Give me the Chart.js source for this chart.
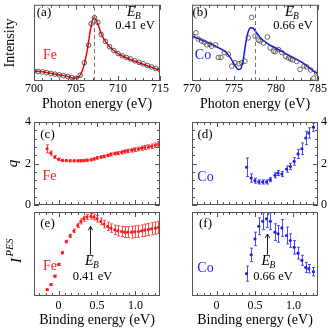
<!DOCTYPE html>
<html>
<head>
<meta charset="utf-8">
<script src="https://cdn.jsdelivr.net/npm/chart.js@4.4.1/dist/chart.umd.min.js"></script>
<style>
  html, body { margin: 0; padding: 0; background: #fff; }
  #wrap { position: relative; width: 332px; height: 334px; }
  #wrap canvas { position: absolute; left: 0; top: 0; }
</style>
</head>
<body>
<div id="wrap">
  <canvas id="chartA" width="332" height="334"></canvas>
  <canvas id="chartB" width="332" height="334"></canvas>
  <canvas id="chartC" width="332" height="334"></canvas>
  <canvas id="chartD" width="332" height="334"></canvas>
  <canvas id="chartE" width="332" height="334"></canvas>
  <canvas id="chartF" width="332" height="334"></canvas>
</div>
<script>
// (a) Fe absorption, measured points and fit
const feEnergy = [700, 700.5, 701, 701.5, 702, 702.5, 703, 703.5, 704, 704.5, 705, 705.5, 706, 706.5, 706.8, 707.2, 707.6, 708, 708.5, 709, 709.5, 710, 710.5, 711, 711.5, 712, 712.5, 713, 713.5, 714, 714.5, 715];
const feIntensity = [0.13, 0.125, 0.12, 0.11, 0.10, 0.09, 0.08, 0.07, 0.06, 0.045, 0.035, 0.075, 0.24, 0.47, 0.75, 0.83, 0.77, 0.61, 0.52, 0.45, 0.40, 0.36, 0.33, 0.31, 0.29, 0.265, 0.245, 0.225, 0.205, 0.185, 0.165, 0.145];
const feFitEnergy = [700, 701, 702, 703, 704, 704.8, 705.3, 705.8, 706.3, 706.8, 707.1, 707.5, 708, 708.5, 709, 710, 711, 712, 713, 714, 715];
const feFitIntensity = [0.13, 0.12, 0.10, 0.08, 0.06, 0.035, 0.05, 0.15, 0.38, 0.72, 0.83, 0.78, 0.62, 0.52, 0.45, 0.36, 0.305, 0.26, 0.22, 0.18, 0.14];

// (b) Co absorption, measured points and fit
const coEnergy = [770.04, 770.48, 770.75, 771.15, 771.47, 771.75, 772.14, 772.34, 772.8, 773.13, 773.45, 773.85, 774.33, 774.72, 775.12, 775.6, 775.9, 776.3, 776.7, 777.1, 777.5, 777.9, 778.1, 778.5, 778.97, 779.3, 779.7, 779.9, 780.3, 780.7, 781.15, 781.47, 781.75, 781.98, 782.46, 782.86, 783.33, 783.65, 784.13, 784.49, 784.84];
const coIntensity = [0.587, 0.632, 0.55, 0.525, 0.508, 0.475, 0.483, 0.455, 0.475, 0.31, 0.31, 0.372, 0.351, 0.194, 0.24, 0.227, 0.24, 0.26, 0.566, 0.835, 0.59, 0.537, 0.525, 0.496, 0.578, 0.434, 0.393, 0.384, 0.413, 0.372, 0.322, 0.302, 0.289, 0.277, 0.256, 0.153, 0.198, 0.186, 0.145, 0.037, 0.103];
const coFitEnergy = [770, 771, 772, 773, 774, 774.6, 775.1, 775.5, 775.8, 776.1, 776.4, 776.7, 777.0, 777.3, 777.7, 778.2, 779, 780, 781, 782, 783, 784, 785];
const coFitIntensity = [0.59, 0.545, 0.5, 0.445, 0.38, 0.30, 0.21, 0.15, 0.16, 0.28, 0.5, 0.65, 0.70, 0.69, 0.63, 0.56, 0.49, 0.43, 0.37, 0.31, 0.25, 0.17, 0.09];

// (c),(e) Fe vs binding energy
const feBinding = [-0.15, -0.10, -0.05, 0.00, 0.05, 0.10, 0.15, 0.20, 0.25, 0.29, 0.33, 0.37, 0.42, 0.46, 0.50, 0.55, 0.59, 0.64, 0.68, 0.73, 0.77, 0.82, 0.86, 0.90, 0.95, 0.99, 1.04, 1.08, 1.12, 1.17, 1.21, 1.26, 1.30];
const feQ = [2.71, 2.50, 2.31, 2.20, 2.15, 2.14, 2.13, 2.13, 2.13, 2.13, 2.14, 2.16, 2.18, 2.22, 2.27, 2.31, 2.34, 2.39, 2.44, 2.48, 2.50, 2.54, 2.58, 2.61, 2.64, 2.67, 2.70, 2.74, 2.77, 2.80, 2.83, 2.88, 2.93];
const feQErr = [0.19, 0.10, 0.07, 0.06, 0.05, 0.05, 0.05, 0.05, 0.05, 0.05, 0.05, 0.05, 0.05, 0.05, 0.06, 0.06, 0.06, 0.06, 0.07, 0.07, 0.07, 0.08, 0.08, 0.08, 0.09, 0.09, 0.09, 0.10, 0.10, 0.10, 0.11, 0.11, 0.12];
const feIpes = [0.076, 0.136, 0.236, 0.376, 0.516, 0.648, 0.716, 0.776, 0.84, 0.888, 0.92, 0.94, 0.948, 0.94, 0.92, 0.888, 0.856, 0.828, 0.808, 0.788, 0.776, 0.768, 0.76, 0.76, 0.76, 0.764, 0.768, 0.776, 0.784, 0.792, 0.80, 0.808, 0.816];
const feIpesErr = [0.01, 0.01, 0.012, 0.012, 0.015, 0.015, 0.02, 0.02, 0.025, 0.03, 0.03, 0.03, 0.032, 0.035, 0.04, 0.04, 0.045, 0.05, 0.05, 0.055, 0.06, 0.06, 0.065, 0.065, 0.07, 0.07, 0.07, 0.07, 0.072, 0.072, 0.072, 0.072, 0.072];

// (d),(f) Co vs binding energy
const coBinding = [0.39, 0.45, 0.50, 0.55, 0.60, 0.65, 0.70, 0.76, 0.80, 0.85, 0.91, 0.96, 1.01, 1.06, 1.11, 1.16, 1.20, 1.26];
const coQ = [1.82, 1.30, 1.17, 1.11, 1.11, 1.11, 1.22, 1.43, 1.54, 1.49, 1.73, 1.86, 2.10, 2.46, 2.71, 3.23, 3.47, 3.75];
const coQErr = [0.45, 0.2, 0.12, 0.1, 0.1, 0.1, 0.1, 0.12, 0.12, 0.12, 0.15, 0.15, 0.18, 0.22, 0.28, 0.32, 0.25, 0.2];
const coIpes = [0.266, 0.49, 0.68, 0.83, 0.89, 0.917, 0.89, 0.76, 0.74, 0.81, 0.72, 0.66, 0.58, 0.51, 0.425, 0.34, 0.325, 0.29];
const coIpesErr = [0.09, 0.08, 0.08, 0.1, 0.1, 0.1, 0.1, 0.1, 0.1, 0.1, 0.1, 0.08, 0.08, 0.07, 0.06, 0.06, 0.05, 0.05];

// tick labels
const feTicks = [700, 705, 710, 715];
const coTicks = [770, 775, 780, 785];
const bindingTicks = [0, 0.5, 1];
const qTicks = [0, 2, 4];

const SERIF = '"Liberation Serif", "Times New Roman", serif';
const RED = '#ff1a1a';
const BLUE = '#2020f0';
Chart.defaults.font.family = SERIF;
Chart.defaults.color = '#000';

function pts(xs, ys) {
    return xs.map((x, i) => ({ x: x, y: ys[i] }));
}

function txt(ctx, s, x, y, size, color, style, align) {
    ctx.font = (style || '') + ' ' + size + 'px ' + SERIF;
    ctx.fillStyle = color || '#000';
    ctx.textAlign = align || 'center';
    ctx.textBaseline = 'middle';
    ctx.fillText(s, x, y);
}

// E with subscript B
function drawEB(ctx, x0, y) {
    txt(ctx, 'E', x0, y, 14, '#000', 'italic', 'left');
    const w = ctx.measureText('E').width;
    txt(ctx, 'B', x0 + w - 0.5, y + 3.5, 9.5, '#000', 'italic', 'left');
}

function drawArrow(ctx, x, y1, y2) {
    ctx.save();
    ctx.strokeStyle = '#000';
    ctx.lineWidth = 0.9;
    ctx.beginPath();
    ctx.moveTo(x, y1); ctx.lineTo(x, y2);
    ctx.moveTo(x - 2.2, y2 + 4); ctx.lineTo(x, y2); ctx.lineTo(x + 2.2, y2 + 4);
    ctx.stroke();
    ctx.restore();
}

function tickValues(majors, perMajor, min, max) {
    const step = (majors[1] - majors[0]) / perMajor;
    const out = [];
    let v = majors[0];
    while (v - step >= min - 1e-9) v -= step;
    for (; v <= max + 1e-9; v += step) {
        out.push({ v: v, major: majors.some(m => Math.abs(m - v) < step / 10) });
    }
    return out;
}

function panelPlugin(cfg) {
    return {
        id: 'panel',
        beforeDatasetsDraw(chart) {
            if (!cfg.errors) return;
            const ctx = chart.ctx, a = chart.chartArea;
            const sx = chart.scales.x, sy = chart.scales.y;
            const e = cfg.errors;
            ctx.save();
            ctx.beginPath();
            ctx.rect(a.left, a.top, a.right - a.left, a.bottom - a.top);
            ctx.clip();
            ctx.strokeStyle = e.color;
            ctx.lineWidth = 1;
            ctx.beginPath();
            e.x.forEach((x, i) => {
                const px = Math.round(sx.getPixelForValue(x)) + 0.5;
                const y1 = sy.getPixelForValue(e.y[i] - e.err[i]);
                const y2 = sy.getPixelForValue(e.y[i] + e.err[i]);
                ctx.moveTo(px, y1); ctx.lineTo(px, y2);
                ctx.moveTo(px - 1.5, y1); ctx.lineTo(px + 1.5, y1);
                ctx.moveTo(px - 1.5, y2); ctx.lineTo(px + 1.5, y2);
            });
            ctx.stroke();
            ctx.restore();
        },
        afterDraw(chart) {
            const ctx = chart.ctx, a = chart.chartArea;
            const sx = chart.scales.x, sy = chart.scales.y;
            ctx.save();
            // dashed marker line
            if (cfg.dashed !== undefined) {
                const px = Math.round(sx.getPixelForValue(cfg.dashed)) + 0.5;
                ctx.strokeStyle = '#777';
                ctx.lineWidth = 1;
                ctx.setLineDash([4, 3]);
                ctx.beginPath();
                ctx.moveTo(px, a.bottom); ctx.lineTo(px, a.top);
                ctx.stroke();
                ctx.setLineDash([]);
            }
            // frame
            ctx.strokeStyle = '#555';
            ctx.lineWidth = 1;
            ctx.strokeRect(a.left + 0.5, a.top + 0.5, a.right - a.left - 1, a.bottom - a.top - 1);
            // inward ticks
            ctx.beginPath();
            if (cfg.xTicks) {
                tickValues(cfg.xTicks[0], cfg.xTicks[1], sx.min, sx.max).forEach(t => {
                    const px = Math.round(sx.getPixelForValue(t.v)) + 0.5;
                    const len = t.major ? 5 : 3;
                    ctx.moveTo(px, a.bottom); ctx.lineTo(px, a.bottom - len);
                    ctx.moveTo(px, a.top); ctx.lineTo(px, a.top + len);
                });
            }
            if (cfg.yTicks) {
                tickValues(cfg.yTicks[0], cfg.yTicks[1], sy.min, sy.max).forEach(t => {
                    const py = Math.round(sy.getPixelForValue(t.v)) + 0.5;
                    const len = t.major ? 5 : 3;
                    ctx.moveTo(a.left, py); ctx.lineTo(a.left + len, py);
                    ctx.moveTo(a.right, py); ctx.lineTo(a.right - len, py);
                });
            }
            ctx.stroke();
            ctx.restore();
            if (cfg.extra) cfg.extra(ctx);
        }
    };
}

function baseOptions(pad, xScale, yScale) {
    return {
        responsive: false,
        animation: false,
        devicePixelRatio: 1,
        events: [],
        layout: { padding: pad },
        plugins: { legend: { display: false }, tooltip: { enabled: false } },
        scales: { x: xScale, y: yScale }
    };
}

function fixedTicks(values) {
    return function (scale) { scale.ticks = values.map(v => ({ value: v })); };
}

const noGrid = { display: false, drawTicks: false };

// ---- (a) Fe ----
new Chart(document.getElementById('chartA'), {
    type: 'line',
    data: {
        datasets: [
            { data: pts(feEnergy, feIntensity), showLine: false, pointRadius: 2.3, pointBorderWidth: 0.8,
              pointBorderColor: '#333', pointBackgroundColor: 'rgba(0,0,0,0)', order: 0 },
            { data: pts(feFitEnergy, feFitIntensity), borderColor: '#ff0000', borderWidth: 1.5, pointRadius: 0,
              cubicInterpolationMode: 'monotone', order: 1 }
        ]
    },
    options: baseOptions({ left: 0, top: 1, right: 172, bottom: 218 },
        { type: 'linear', min: 700, max: 715, grid: noGrid, border: { display: false },
          afterBuildTicks: fixedTicks(feTicks), afterFit(s) { s.height = 35; },
          ticks: { padding: 1, maxRotation: 0, font: { size: 12 } },
          title: { display: true, text: 'Photon energy (eV)', font: { size: 14 }, padding: { top: 0, bottom: 3 } } },
        { type: 'linear', min: 0, max: 1, grid: noGrid, border: { display: false },
          ticks: { display: false }, afterFit(s) { s.width = 34; },
          title: { display: true, text: 'Intensity', font: { size: 14 }, padding: { top: 2, bottom: 0 } } }),
    plugins: [panelPlugin({
        xTicks: [feTicks, 5], dashed: 707.2,
        extra(ctx) {
            txt(ctx, '(a)', 44, 13, 13);
            drawEB(ctx, 127, 12.5);
            txt(ctx, '0.41 eV', 135, 25.5, 12.5);
            txt(ctx, 'Fe', 50, 55, 14, RED);
        }
    })]
});

// ---- (b) Co ----
new Chart(document.getElementById('chartB'), {
    type: 'line',
    data: {
        datasets: [
            { data: pts(coEnergy, coIntensity), showLine: false, pointRadius: 2.3, pointBorderWidth: 0.8,
              pointBorderColor: '#444', pointBackgroundColor: 'rgba(0,0,0,0)', order: 0 },
            { data: pts(coFitEnergy, coFitIntensity), borderColor: '#1010ff', borderWidth: 1.5, pointRadius: 0,
              cubicInterpolationMode: 'monotone', order: 1 }
        ]
    },
    options: baseOptions({ left: 192, top: 1, right: 14, bottom: 218 },
        { type: 'linear', min: 770, max: 785, grid: noGrid, border: { display: false },
          afterBuildTicks: fixedTicks(coTicks), afterFit(s) { s.height = 35; },
          ticks: { padding: 1, maxRotation: 0, font: { size: 12 } },
          title: { display: true, text: 'Photon energy (eV)', font: { size: 14 }, padding: { top: 0, bottom: 3 } } },
        { type: 'linear', min: 0, max: 1, display: false }),
    plugins: [panelPlugin({
        xTicks: [coTicks, 5], dashed: 777.5,
        extra(ctx) {
            txt(ctx, '(b)', 200, 13, 13);
            drawEB(ctx, 285, 12.5);
            txt(ctx, '0.66 eV', 293, 25.5, 12.5);
            txt(ctx, 'Co', 203, 55, 14, BLUE);
        }
    })]
});

// ---- (c) Fe q ----
new Chart(document.getElementById('chartC'), {
    type: 'line',
    data: { datasets: [{ data: pts(feBinding, feQ), showLine: false, pointRadius: 1.6, pointBorderWidth: 0,
                         pointBackgroundColor: RED }] },
    options: baseOptions({ left: 0, top: 122, right: 172, bottom: 129 },
        { type: 'linear', min: -0.32, max: 1.32, display: false },
        { type: 'linear', min: 0, max: 4, grid: noGrid, border: { display: false },
          afterBuildTicks: fixedTicks(qTicks), afterFit(s) { s.width = 34; },
          ticks: { padding: 3, font: { size: 12 } },
          title: { display: true, text: 'q', font: { size: 15, style: 'italic' }, padding: { top: 4, bottom: 0 } } }),
    plugins: [panelPlugin({
        xTicks: [bindingTicks, 6], yTicks: [qTicks, 5],
        errors: { x: feBinding, y: feQ, err: feQErr, color: '#ff4a4a' },
        extra(ctx) {
            txt(ctx, '(c)', 47.5, 134.5, 13);
            txt(ctx, 'Fe', 49.5, 176, 14, RED);
        }
    })]
});

// ---- (d) Co q ----
new Chart(document.getElementById('chartD'), {
    type: 'line',
    data: { datasets: [{ data: pts(coBinding, coQ), showLine: false, pointRadius: 1.6, pointBorderWidth: 0,
                         pointBackgroundColor: BLUE }] },
    options: baseOptions({ left: 192, top: 122, right: 0, bottom: 129 },
        { type: 'linear', min: -0.32, max: 1.32, display: false },
        { type: 'linear', position: 'right', min: 0, max: 4, grid: noGrid, border: { display: false },
          afterBuildTicks: fixedTicks(qTicks), afterFit(s) { s.width = 14; },
          ticks: { padding: 3, font: { size: 12 } } }),
    plugins: [panelPlugin({
        xTicks: [bindingTicks, 6], yTicks: [qTicks, 5],
        errors: { x: coBinding, y: coQ, err: coQErr, color: '#4a4aff' },
        extra(ctx) {
            txt(ctx, '(d)', 205, 134.5, 13);
            txt(ctx, 'Co', 205.5, 177.5, 14, BLUE);
        }
    })]
});

// ---- (e) Fe IPES ----
new Chart(document.getElementById('chartE'), {
    type: 'line',
    data: { datasets: [{ data: pts(feBinding, feIpes), showLine: false, pointRadius: 1.6, pointBorderWidth: 0,
                         pointBackgroundColor: RED }] },
    options: baseOptions({ left: 34, top: 212, right: 172, bottom: 0 },
        { type: 'linear', min: -0.32, max: 1.32, grid: noGrid, border: { display: false },
          afterBuildTicks: fixedTicks(bindingTicks), afterFit(s) { s.height = 38; },
          ticks: { padding: 3, maxRotation: 0, font: { size: 12 } },
          title: { display: true, text: 'Binding energy (eV)', font: { size: 14 }, padding: { top: 0, bottom: 5 } } },
        { type: 'linear', min: 0, max: 1, display: false }),
    plugins: [panelPlugin({
        xTicks: [bindingTicks, 6],
        errors: { x: feBinding, y: feIpes, err: feIpesErr, color: '#ff4a4a' },
        extra(ctx) {
            txt(ctx, '(e)', 47.5, 224, 13);
            txt(ctx, 'Fe', 50, 266, 14, RED);
            drawArrow(ctx, 90.5, 254.7, 226.3);
            drawEB(ctx, 85, 261.7);
            txt(ctx, '0.41 eV', 92.5, 276.5, 12.5);
            // y label I^PES
            ctx.save();
            ctx.translate(17, 263);
            ctx.rotate(-Math.PI / 2);
            txt(ctx, 'I', 0, 0, 15, '#000', 'italic', 'left');
            ctx.textBaseline = 'alphabetic';
            const w = ctx.measureText('I').width;
            txt(ctx, 'PES', w + 1.5, -7, 10.5, '#000', 'italic', 'left');
            ctx.restore();
        }
    })]
});

// ---- (f) Co IPES ----
new Chart(document.getElementById('chartF'), {
    type: 'line',
    data: { datasets: [{ data: pts(coBinding, coIpes), showLine: false, pointRadius: 1.6, pointBorderWidth: 0,
                         pointBackgroundColor: BLUE }] },
    options: baseOptions({ left: 192, top: 212, right: 14, bottom: 0 },
        { type: 'linear', min: -0.32, max: 1.32, grid: noGrid, border: { display: false },
          afterBuildTicks: fixedTicks(bindingTicks), afterFit(s) { s.height = 38; },
          ticks: { padding: 3, maxRotation: 0, font: { size: 12 } },
          title: { display: true, text: 'Binding energy (eV)', font: { size: 14 }, padding: { top: 0, bottom: 5 } } },
        { type: 'linear', min: 0, max: 1, display: false }),
    plugins: [panelPlugin({
        xTicks: [bindingTicks, 6],
        errors: { x: coBinding, y: coIpes, err: coIpesErr, color: '#4a4aff' },
        extra(ctx) {
            txt(ctx, '(f)', 205.5, 224, 13);
            txt(ctx, 'Co', 205.5, 268, 14, BLUE);
            drawArrow(ctx, 267.5, 254.7, 234);
            drawEB(ctx, 261.5, 261.7);
            txt(ctx, '0.66 eV', 273, 276.5, 12.5);
        }
    })]
});
</script>
</body>
</html>
